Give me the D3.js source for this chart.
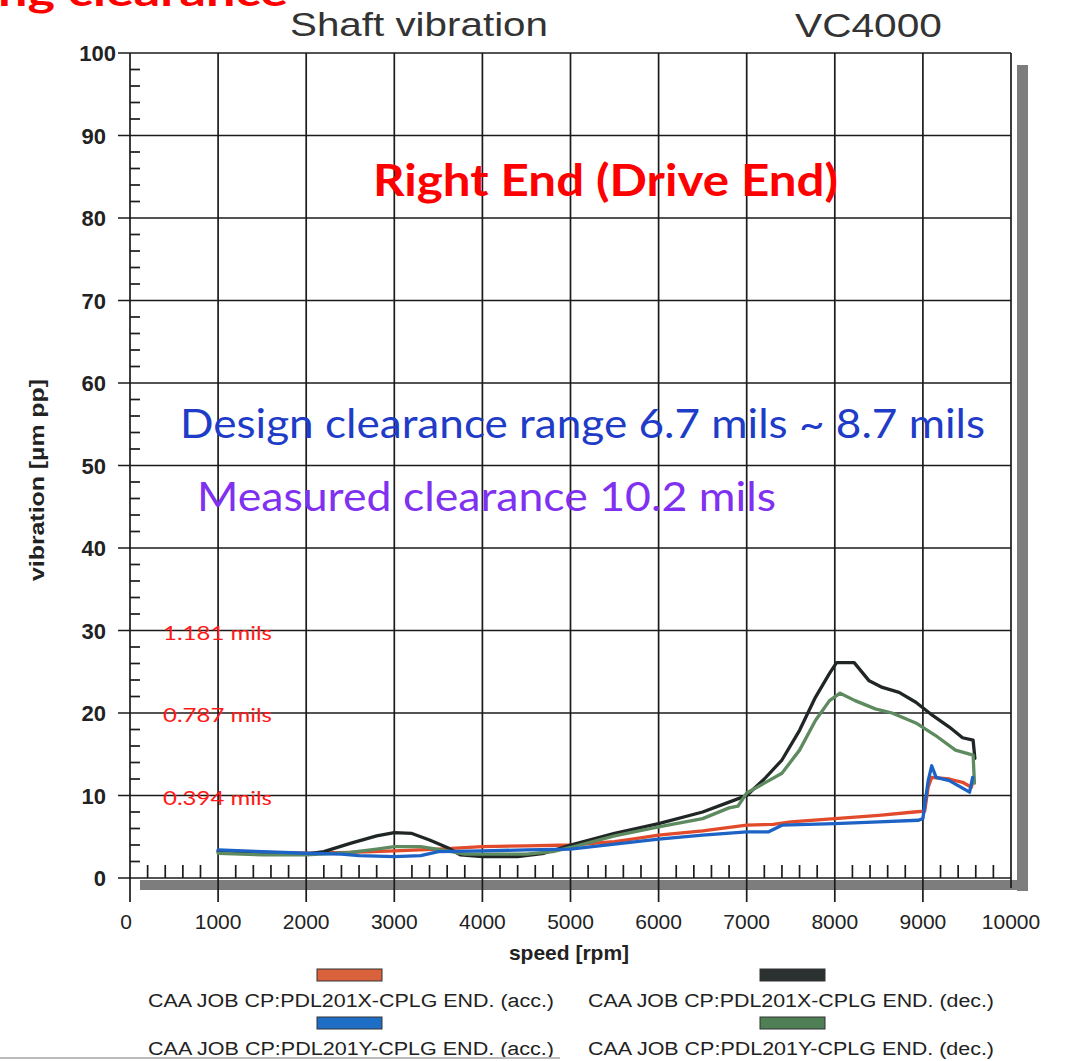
<!DOCTYPE html>
<html><head><meta charset="utf-8">
<script src="https://cdn.jsdelivr.net/npm/d3@7"></script>
<style>html,body{margin:0;padding:0;background:#fff;}svg{display:block;}</style>
</head><body>
<script>
// ---- data ----
const redRpm  = [1000,1500,2000,2500,3000,3500,4000,4500,5000,5500,5700,6000,6500,7000,7300,7500,8000,8500,8900,9020,9060,9100,9300,9450,9550,9565];
const redVib  = [3.3,3.1,3.0,3.1,3.3,3.5,3.8,3.9,4.0,4.4,4.7,5.2,5.7,6.4,6.5,6.8,7.2,7.6,8.0,8.1,11.0,12.2,12.0,11.6,11.0,11.6];
const blueRpm = [1000,1500,2000,2400,2600,3000,3300,3500,4000,4500,5000,5500,6000,6500,7000,7250,7400,8000,8500,8950,9000,9060,9100,9150,9300,9450,9530,9565];
const blueVib = [3.4,3.2,3.0,2.9,2.7,2.6,2.7,3.2,3.3,3.4,3.5,4.1,4.7,5.2,5.6,5.6,6.4,6.6,6.8,7.0,7.2,11.8,13.6,12.2,11.8,10.9,10.4,12.2];
const blackRpm = [1000,1500,2000,2200,2500,2800,3000,3200,3400,3600,3750,4000,4400,4700,5000,5500,6000,6500,6800,7000,7200,7400,7600,7780,7940,8020,8220,8390,8540,8730,8920,9110,9300,9450,9570,9590];
const blackVib = [3.2,3.0,2.9,3.2,4.2,5.1,5.5,5.4,4.6,3.7,2.8,2.6,2.6,3.0,4.0,5.4,6.6,8.0,9.2,10.0,12.0,14.3,17.9,21.9,24.8,26.1,26.1,23.9,23.1,22.5,21.3,19.7,18.3,17.0,16.7,14.5];
const greenRpm = [1000,1500,2000,2500,2800,3000,3300,3600,3800,4500,4800,5000,5500,6000,6500,6800,6900,7000,7200,7400,7600,7780,7940,8060,8230,8460,8650,8920,9140,9370,9570,9585];
const greenVib = [3.0,2.8,2.8,3.1,3.5,3.8,3.8,3.3,2.9,2.9,3.2,3.7,5.1,6.2,7.2,8.5,8.7,10.3,11.5,12.7,15.5,19.1,21.5,22.4,21.5,20.5,20.0,18.8,17.3,15.5,14.9,11.5];
const seriesNames = ["CAA JOB CP:PDL201X-CPLG END. (acc.)","CAA JOB CP:PDL201X-CPLG END. (dec.)","CAA JOB CP:PDL201Y-CPLG END. (acc.)","CAA JOB CP:PDL201Y-CPLG END. (dec.)"];
const xTicks = [0,1000,2000,3000,4000,5000,6000,7000,8000,9000,10000];
const yTicks = [0,10,20,30,40,50,60,70,80,90,100];
const millsLabels = ["1.181 mils","0.787 mils","0.394 mils"];
const millsAt = [30,20,10];

// ---- layout ----
const W = 1071, H = 1061;
const x = d3.scaleLinear().domain([0,10000]).range([130,1011]);
const y = d3.scaleLinear().domain([0,100]).range([878,53]);

const svg = d3.select("body").append("svg").attr("width",W).attr("height",H);
svg.append("rect").attr("width",W).attr("height",H).attr("fill","#fff");

// shadow
const shadow = "#7d7d7d";
svg.append("rect").attr("x",x(10000)+6).attr("y",y(100)+12).attr("width",11).attr("height",y(0)-y(100)+1).attr("fill",shadow);
svg.append("rect").attr("x",x(0)+10).attr("y",y(0)+2).attr("width",x(10000)-x(0)+7).attr("height",10).attr("fill",shadow);

const grid = svg.append("g").attr("stroke","#1b1b1b").attr("stroke-width",1.7);
grid.selectAll("line.v").data(xTicks).join("line")
  .attr("x1",d=>x(d)).attr("x2",d=>x(d))
  .attr("y1",y(100)).attr("y2",d=> d===10000 ? y(0)+10 : y(0)+24);
grid.selectAll("line.h").data(yTicks).join("line")
  .attr("y1",d=>y(d)).attr("y2",d=>y(d))
  .attr("x1",x(0)-12).attr("x2",x(10000));
const xMinor = d3.range(0,10001,200).filter(v=>v%1000!==0);
grid.selectAll("line.xm").data(xMinor).join("line")
  .attr("x1",d=>x(d)).attr("x2",d=>x(d)).attr("y1",y(0)).attr("y2",y(0)-13);
const yMinor = d3.range(0,101,2).filter(v=>v%10!==0);
grid.selectAll("line.ym").data(yMinor).join("line")
  .attr("y1",d=>y(d)).attr("y2",d=>y(d)).attr("x1",x(0)).attr("x2",x(0)+10);

// tick labels
svg.append("g").selectAll("text").data(yTicks).join("text")
  .attr("x",d=> d===100 ? 116 : 106).attr("y",d=>y(d)+8)
  .attr("text-anchor","end").attr("font-family","Liberation Sans, Arial, sans-serif")
  .attr("font-weight","bold").attr("font-size",22).attr("fill","#222")
  .text(d=>d);
svg.append("g").selectAll("text").data(xTicks).join("text")
  .attr("x",d=>x(d)+ (d===0?-4:0)).attr("y",929)
  .attr("text-anchor","middle").attr("font-family","Liberation Sans, Arial, sans-serif")
  .attr("font-size",21).attr("fill","#222")
  .text(d=>d);

// axis titles
svg.append("text").attr("transform","translate(44,480) rotate(-90)")
  .attr("text-anchor","middle").attr("font-family","Liberation Sans, Arial, sans-serif")
  .attr("font-weight","bold").attr("font-size",21).attr("fill","#222")
  .attr("textLength",202).attr("lengthAdjust","spacingAndGlyphs")
  .text("vibration [µm pp]");
svg.append("text").attr("x",569).attr("y",960).attr("text-anchor","middle")
  .attr("font-family","Liberation Sans, Arial, sans-serif").attr("font-weight","bold")
  .attr("font-size",21).attr("fill","#222").text("speed [rpm]");

// titles
svg.append("text").attr("x",290).attr("y",36).attr("font-family","Liberation Sans, Arial, sans-serif")
  .attr("font-size",33).attr("fill","#333").attr("textLength",258).attr("lengthAdjust","spacingAndGlyphs").text("Shaft vibration");
svg.append("text").attr("x",795).attr("y",37).attr("font-family","Liberation Sans, Arial, sans-serif")
  .attr("font-size",33).attr("fill","#333").attr("textLength",147).attr("lengthAdjust","spacingAndGlyphs").text("VC4000");

// series
const colors = {red:"#e24a2c", blue:"#1d63c6", black:"#202626", green:"#5e8a60"};
const line = d3.line().x(d=>x(d[0])).y(d=>y(d[1]));
const series = [
  {rpm:redRpm, vib:redVib, c:colors.red},
  {rpm:blackRpm, vib:blackVib, c:colors.black},
  {rpm:greenRpm, vib:greenVib, c:colors.green},
  {rpm:blueRpm, vib:blueVib, c:colors.blue}
];
svg.append("g").selectAll("path").data(series).join("path")
  .attr("d",s=>line(s.rpm.map((r,i)=>[r,s.vib[i]])))
  .attr("fill","none").attr("stroke",s=>s.c).attr("stroke-width",3.3)
  .attr("stroke-linejoin","round").attr("stroke-linecap","round");

// legend
const legendColors = ["#d9623c","#2b3030","#1f6ec6","#4f7f55"];
const legX = [[317,148],[760,588],[317,148],[760,588]];
const legY = [969,969,1017,1017];
seriesNames.forEach((n,i)=>{
  svg.append("rect").attr("x",legX[i][0]).attr("y",legY[i]).attr("width",65).attr("height",12)
    .attr("fill",legendColors[i]).attr("stroke","#333").attr("stroke-width",1);
  svg.append("text").attr("x",legX[i][1]).attr("y",legY[i]+38)
    .attr("font-family","Liberation Sans, Arial, sans-serif").attr("font-size",18).attr("fill","#222")
    .attr("textLength",406).attr("lengthAdjust","spacingAndGlyphs").text(n);
});

// annotations
const ann = "Lato, 'Open Sans', sans-serif";
svg.append("text").attr("x",-2).attr("y",6).attr("font-family",ann).attr("font-weight","bold")
  .attr("font-size",40).attr("fill","#ff0000").attr("textLength",290).attr("lengthAdjust","spacingAndGlyphs").text("ng clearance");
svg.append("text").attr("x",373).attr("y",196).attr("font-family",ann).attr("font-weight","bold")
  .attr("font-size",44).attr("fill","#ff0000").attr("textLength",465).attr("lengthAdjust","spacingAndGlyphs").text("Right End (Drive End)");
svg.append("text").attr("x",180).attr("y",438).attr("font-family",ann)
  .attr("font-size",41).attr("fill","#1e3cc8").attr("textLength",805).attr("lengthAdjust","spacingAndGlyphs").text("Design clearance range 6.7 mils ~ 8.7 mils");
svg.append("text").attr("x",197).attr("y",511).attr("font-family",ann)
  .attr("font-size",41).attr("fill","#8030f0").attr("textLength",579).attr("lengthAdjust","spacingAndGlyphs").text("Measured clearance 10.2 mils");
svg.append("g").selectAll("text").data(millsLabels).join("text")
  .attr("x",163).attr("y",(d,i)=>y(millsAt[i])+9).attr("font-family",ann)
  .attr("font-size",19).attr("fill","#ff1a1a").attr("textLength",109).attr("lengthAdjust","spacingAndGlyphs").text(d=>d);

// bottom page edge
svg.append("line").attr("x1",0).attr("x2",560).attr("y1",1058).attr("y2",1058).attr("stroke","#bbb").attr("stroke-width",2);
</script>
</body></html>
